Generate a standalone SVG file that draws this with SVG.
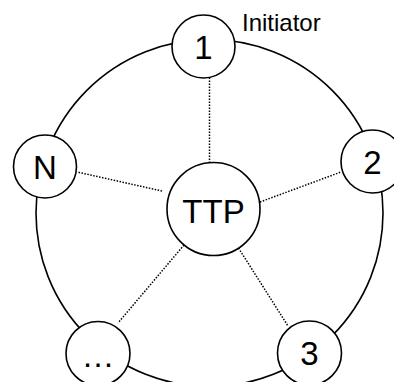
<svg xmlns="http://www.w3.org/2000/svg" width="394" height="382" viewBox="0 0 394 382">
  <style>
    .ring { fill: none; stroke: #000; stroke-width: 1.6; }
    .node circle { fill: #fff; stroke: #000; stroke-width: 1.6; }
    .node text { font-family: "Liberation Sans", Arial, sans-serif; font-size: 33px; text-anchor: middle; fill: #000; }
    .link { stroke: #000; stroke-width: 1.5; stroke-dasharray: 1.5 1.5; fill: none; }
    .label { font-family: "Liberation Sans", Arial, sans-serif; font-size: 24px; fill: #000; }
  </style>
  <rect width="394" height="382" fill="#fff"/>

  <!-- outer ring joining the participants -->
  <circle class="ring" cx="209.5" cy="213" r="173.5"/>

  <!-- dotted links between the trusted third party and each participant -->
  <g id="connectors">
    <line class="link" x1="209.5" y1="163" x2="209.5" y2="78"/>
    <line class="link" x1="162" y1="191" x2="77" y2="172"/>
    <line class="link" x1="260" y1="202" x2="341" y2="172"/>
    <line class="link" x1="184" y1="245" x2="118" y2="323"/>
    <line class="link" x1="238.5" y1="248" x2="288" y2="326"/>
  </g>

  <g id="node-ttp" class="node">
    <circle cx="213.5" cy="209" r="46.5"/>
    <text x="213.5" y="223">TTP</text>
  </g>
  <g id="node-1" class="node">
    <circle cx="203.5" cy="46.5" r="31.5"/>
    <text x="203.5" y="58.5">1</text>
  </g>
  <g id="node-2" class="node">
    <circle cx="372.5" cy="161.5" r="31.5"/>
    <text x="372.5" y="173.5">2</text>
  </g>
  <g id="node-3" class="node">
    <circle cx="309.5" cy="353" r="32"/>
    <text x="309.5" y="365">3</text>
  </g>
  <g id="node-etc" class="node">
    <circle cx="98" cy="353.5" r="32"/>
    <text x="98" y="366.5">…</text>
  </g>
  <g id="node-n" class="node">
    <circle cx="45" cy="166.5" r="31.5"/>
    <text x="45" y="178.5">N</text>
  </g>

  <text class="label" x="242" y="31">Initiator</text>
</svg>
